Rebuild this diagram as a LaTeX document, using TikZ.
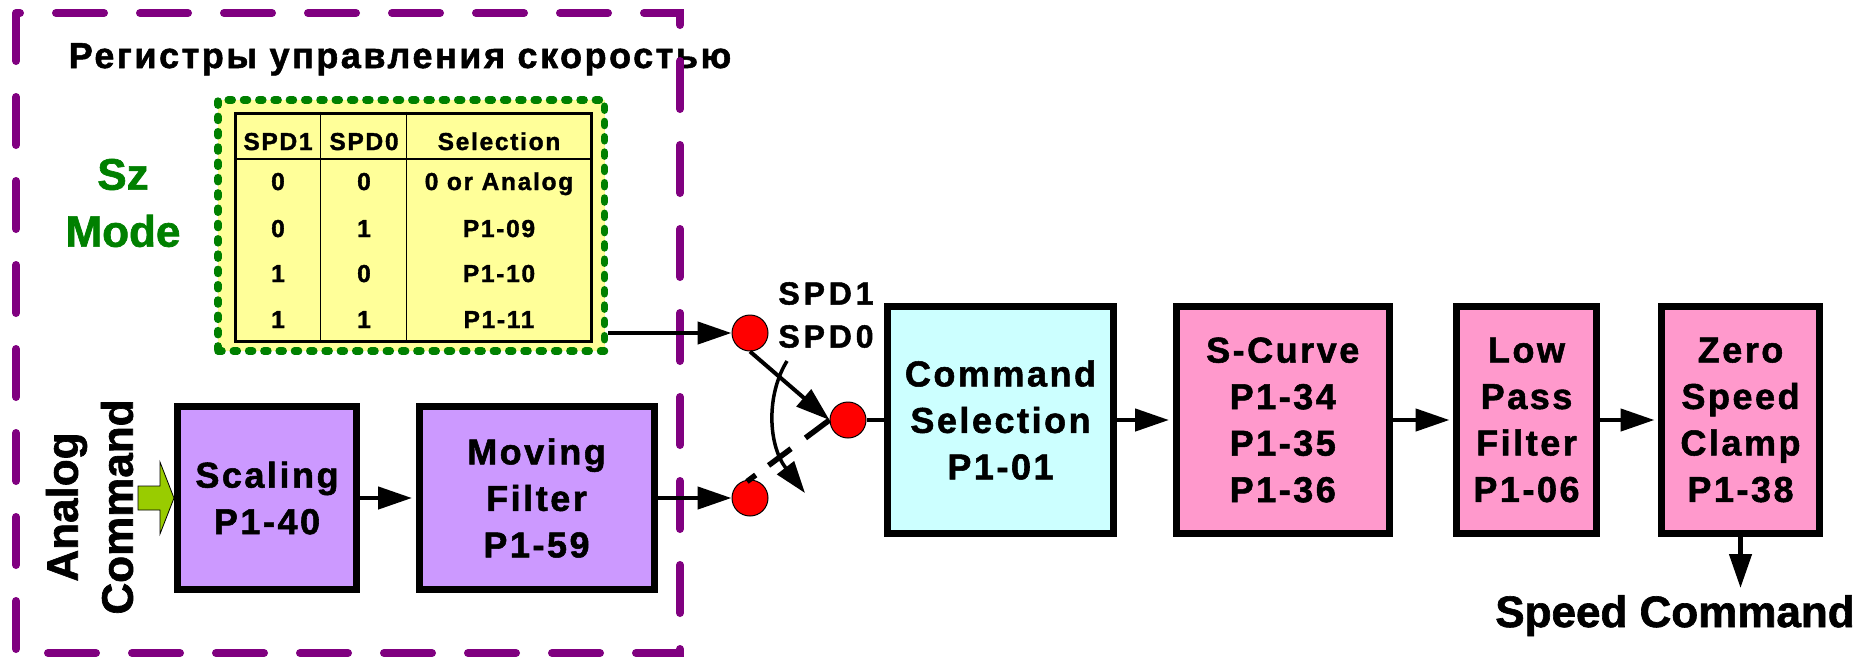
\documentclass[tikz,border=0pt]{standalone}
\usepackage{fontspec}
\setmainfont{Liberation Sans}[BoldFeatures={FakeBold=1.5}]
\newfontfamily\widefont{Liberation Sans}[LetterSpace=7, BoldFeatures={FakeBold=1.5}]
\newfontfamily\spdfont{Liberation Sans}[LetterSpace=12, BoldFeatures={FakeBold=1.5}]
\usetikzlibrary{arrows.meta,calc}
\definecolor{dpurple}{RGB}{128,0,128}
\definecolor{dgreen}{RGB}{0,128,0}
\definecolor{lyellow}{RGB}{255,255,153}
\definecolor{lviolet}{RGB}{204,153,255}
\definecolor{lcyan}{RGB}{204,255,255}
\definecolor{lpink}{RGB}{255,153,204}
\definecolor{ygreen}{RGB}{153,204,0}
\begin{document}
\begin{tikzpicture}[x=1pt,y=-1pt,
  blk/.style={draw=black, line width=7pt, align=center, inner sep=0pt,
    font=\widefont\bfseries\fontsize{36}{46.5}\selectfont},
  dot/.style={circle, fill=red, draw=black, line width=1pt, minimum size=36pt, inner sep=0pt},
  tcell/.style={anchor=base, inner sep=0pt, font=\widefont\bfseries\fontsize{24.5}{28}\selectfont},
  arr/.style={line width=4.5pt, -{Triangle[length=34pt,width=22pt]}},
  plain/.style={line width=4.5pt}
]
\fill[white] (0,0) rectangle (1874,657);
\useasboundingbox (0,0) rectangle (1874,657);

% title
\node[anchor=base, inner sep=0pt, font=\widefont\bfseries\fontsize{36}{40}\selectfont] (title) at (400,68) {Регистры управления скоростью};

% purple dashed frame
\draw[dpurple, line width=8pt, line cap=round, dash pattern=on 48pt off 36pt]
  (16,13) -- (16,653) -- (680,653) -- (680,13) -- cycle;

% Sz Mode
\node[align=center, text=dgreen, inner sep=0pt, font=\bfseries\fontsize{44}{57}\selectfont] (sz) at (123,203) {Sz\\Mode};

% green dotted box and table
\node[draw=dgreen, fill=lyellow, line width=7.5pt, dash pattern=on 4pt off 11.3pt, line cap=round,
  minimum width=386.5pt, minimum height=251pt, inner sep=0pt] (gbox) at (411.25,225.5) {};
\node[draw=black, fill=lyellow, line width=3.5pt, minimum width=356pt, minimum height=228.4pt, inner sep=0pt] (tbl) at (413.7,227.5) {};
\coordinate (c1) at (320.7,0);
\coordinate (c2) at (406.7,0);
\coordinate (hl) at (0,159);
\draw[line width=1.5pt] (c1 |- tbl.north) -- (c1 |- tbl.south);
\draw[line width=1.5pt] (c2 |- tbl.north) -- (c2 |- tbl.south);
\draw[line width=1.5pt] (tbl.west |- hl) -- (tbl.east |- hl);

\node[tcell] (h1) at (278,150) {SPD1};
\node[tcell] (h2) at (364,150) {SPD0};
\node[tcell] (h3) at (499,150) {Selection};
\node[tcell] (a1) at (278,190) {0};
\node[tcell] (a2) at (364,190) {0};
\node[tcell] (a3) at (499,190) {0 or Analog};
\node[tcell] (b1) at (278,237) {0};
\node[tcell] (b2) at (364,237) {1};
\node[tcell] (b3) at (499,237) {P1-09};
\node[tcell] (d1) at (278,282) {1};
\node[tcell] (d2) at (364,282) {0};
\node[tcell] (d3) at (499,282) {P1-10};
\node[tcell] (e1) at (278,328) {1};
\node[tcell] (e2) at (364,328) {1};
\node[tcell] (e3) at (499,328) {P1-11};

% Analog command
\node[rotate=90, align=center, inner sep=0pt, font=\bfseries\fontsize{44}{55}\selectfont] (anal) at (89.5,507) {Analog\\Command};

% blocks
\node[blk, fill=lviolet, minimum width=179pt, minimum height=183pt] (scal) at (267,498) {Scaling\\P1-40};
\node[blk, fill=lviolet, minimum width=235pt, minimum height=183pt] (mov) at (536.5,498) {Moving\\Filter\\P1-59};
\node[blk, fill=lcyan, minimum width=226pt, minimum height=227pt] (cmd) at (1000.5,420) {Command\\Selection\\P1-01};
\node[blk, fill=lpink, minimum width=213.5pt, minimum height=227pt] (scurve) at (1282.75,420) {S-Curve\\P1-34\\P1-35\\P1-36};
\node[blk, fill=lpink, minimum width=140pt, minimum height=227pt] (lpf) at (1526.5,420) {Low\\Pass\\Filter\\P1-06};
\node[blk, fill=lpink, minimum width=158pt, minimum height=227pt] (zero) at (1740.5,420) {Zero\\Speed\\Clamp\\P1-38};

% green input arrow
\draw[fill=ygreen, draw=black, line width=0.8pt]
  (138,486) -- (160,486) -- (160,462) -- (174,498) -- (160,534) -- (160,510) -- (138,510) -- cycle;

% switch circles
\node[dot] (top) at (750,333) {};
\node[dot] (mid) at (848,420) {};
\node[dot] (bot) at (750,498) {};

\node[align=center, inner sep=0pt, font=\spdfont\bfseries\fontsize{32}{43}\selectfont] (spd) at (826,315) {SPD1\\SPD0};

% connectors
\draw[arr, shorten >=3.5pt] (scal.east) -- (mov.west);
\draw[arr] (mov.east) -- (bot.west);
\draw[arr] (gbox.east |- top.west) -- (top.west);
\draw[line width=4pt, -{Triangle[length=34pt,width=22pt]}] (top.south) -- (mid.west);
\draw[line width=5.5pt, dash pattern=on 30pt off 18pt on 28pt off 16pt] (mid.west) -- ($(bot.north)+(-3,2)$);
\coordinate (cs) at (787,361);
\coordinate (ce) at (805,493);
\draw[line width=3.5pt, -{Triangle[length=32pt,width=21pt]}] (cs) .. controls (766,395) and (768,445) .. (ce);
\draw[plain] (mid.east) -- (cmd.west);
\draw[arr, shorten >=3.5pt] (cmd.east) -- (scurve.west);
\draw[arr, shorten >=3.5pt] (scurve.east) -- (lpf.west);
\draw[arr, shorten >=3.5pt] (lpf.east) -- (zero.west);
\coordinate (out) at (1740.5,588);
\draw[arr] (zero.south) -- (out);
\node[anchor=base, inner sep=0pt, font=\bfseries\fontsize{44}{50}\selectfont] (spcmd) at (1675,627) {Speed Command};
\end{tikzpicture}
\end{document}
